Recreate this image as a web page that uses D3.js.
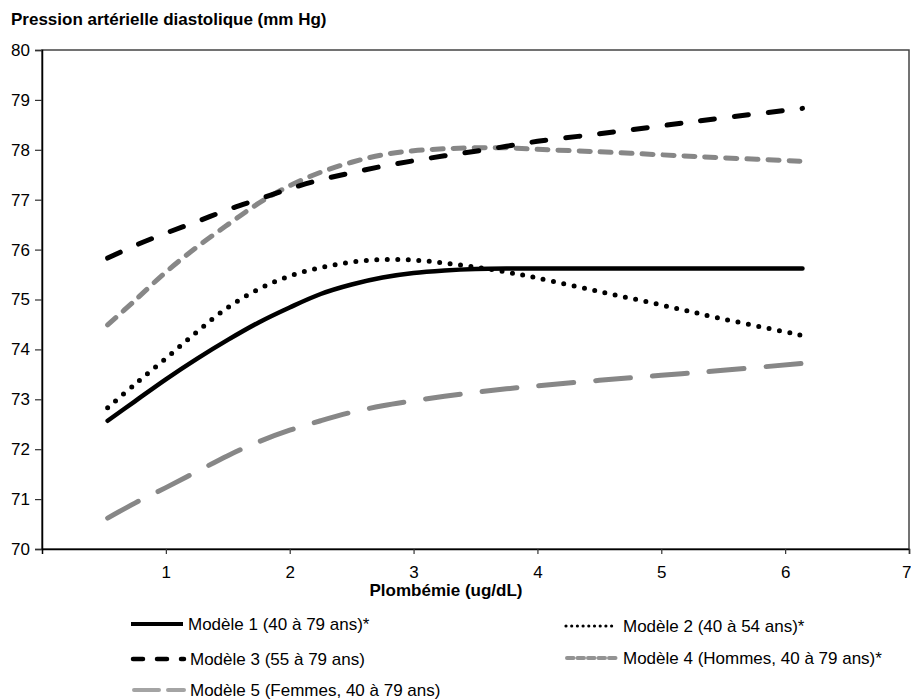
<!DOCTYPE html>
<html>
<head>
<meta charset="utf-8">
<script src="https://cdn.jsdelivr.net/npm/d3@7/dist/d3.min.js"></script>
<style>
  body { margin: 0; background: #fff; }
  svg { display: block; font-family: "Liberation Sans", Arial, sans-serif; }
</style>
</head>
<body>
<svg id="chart" width="911" height="700"></svg>
<script>
// ---- data ----
const xValues = [0.53, 0.75, 1, 1.25, 1.5, 1.75, 2, 2.25, 2.5, 2.75, 3, 3.25, 3.5, 3.75, 4, 4.5, 5, 5.5, 6.14];
const model1 = [72.57, 72.96, 73.40, 73.81, 74.19, 74.54, 74.84, 75.11, 75.30, 75.44, 75.53, 75.58, 75.61, 75.62, 75.62, 75.62, 75.62, 75.62, 75.62];
const model2 = [72.83, 73.30, 73.82, 74.35, 74.84, 75.21, 75.47, 75.64, 75.75, 75.80, 75.79, 75.73, 75.65, 75.55, 75.43, 75.16, 74.89, 74.61, 74.28];
const model3 = [75.83, 76.08, 76.33, 76.56, 76.80, 77.01, 77.22, 77.40, 77.54, 77.67, 77.78, 77.88, 77.97, 78.07, 78.17, 78.32, 78.48, 78.64, 78.83];
const model4 = [74.49, 74.98, 75.55, 76.05, 76.50, 76.93, 77.28, 77.55, 77.75, 77.90, 77.98, 78.02, 78.04, 78.04, 78.01, 77.96, 77.90, 77.84, 77.77];
const model5 = [70.62, 70.92, 71.23, 71.55, 71.87, 72.15, 72.38, 72.57, 72.74, 72.87, 72.97, 73.06, 73.14, 73.21, 73.27, 73.38, 73.48, 73.58, 73.72];
const seriesNames = [
  "Modèle 1 (40 à 79 ans)*",
  "Modèle 2 (40 à 54 ans)*",
  "Modèle 3 (55 à 79 ans)",
  "Modèle 4 (Hommes, 40 à 79 ans)*",
  "Modèle 5 (Femmes, 40 à 79 ans)"
];
const xTicks = [1, 2, 3, 4, 5, 6, 7];
const yTicks = [70, 71, 72, 73, 74, 75, 76, 77, 78, 79, 80];
const yTitle = "Pression artérielle diastolique (mm Hg)";
const xTitle = "Plombémie (ug/dL)";

// ---- styles ----
const styles = [
  { color: "#000", width: 4.5, dash: null, lDash: null, lWidth: 4, lColor: "#000" },
  { color: "#000", width: 5, dash: "0,10.5", lDash: "0,5.7", lWidth: 3.2, lColor: "#000" },
  { color: "#000", width: 5, dash: "14,20", lDash: "10,14", lWidth: 4.5, lColor: "#000" },
  { color: "#878787", width: 5, dash: "11,10", lDash: "6.5,4", lWidth: 4, lColor: "#939393" },
  { color: "#878787", width: 5, dash: "35,22", lDash: "25,9", lWidth: 4, lColor: "#a4a4a4" }
];

const svg = d3.select("#chart");
const mLeft = 42, mRight = 909, mTop = 50, mBottom = 549;
const x = d3.scaleLinear().domain([0, 7]).range([mLeft, mRight]);
const y = d3.scaleLinear().domain([70, 80]).range([mBottom, mTop]);

// frame
svg.append("rect")
  .attr("x", mLeft).attr("y", mTop)
  .attr("width", mRight - mLeft).attr("height", mBottom - mTop)
  .attr("fill", "none").attr("stroke", "#444").attr("stroke-width", 1.5);

// axes
const yAxis = svg.append("g").attr("transform", `translate(${mLeft},0)`)
  .call(d3.axisLeft(y).tickValues(yTicks).tickSize(7).tickPadding(5).tickFormat(d3.format("d")));
const xAxis = svg.append("g").attr("transform", `translate(0,${mBottom})`)
  .call(d3.axisBottom(x).tickValues(xTicks).tickSize(5).tickPadding(12).tickFormat(d3.format("d")));
[yAxis, xAxis].forEach(g => {
  g.select(".domain").attr("stroke", "#000").attr("stroke-width", 1.5);
  g.selectAll(".tick line").attr("stroke", "#333").attr("stroke-width", 1.2);
  g.selectAll(".tick text").attr("font-size", 17).attr("fill", "#000")
    .attr("font-family", "'Liberation Sans', Arial, sans-serif");
});
// keep the last x label inside the canvas
xAxis.selectAll(".tick text").filter(d => d === 7)
  .attr("text-anchor", "end").attr("x", 911 - x(7));

// titles
svg.append("text").attr("x", 11).attr("y", 25)
  .attr("font-size", 17).attr("font-weight", "bold").text(yTitle);
svg.append("text").attr("x", 446).attr("y", 596).attr("text-anchor", "middle")
  .attr("font-size", 17).attr("font-weight", "bold").text(xTitle);

// lines
const allSeries = [model1, model2, model3, model4, model5];
const line = d3.line().x(d => x(d[0])).y(d => y(d[1])).curve(d3.curveCatmullRom.alpha(0.5));
const drawOrder = [4, 3, 2, 1, 0];
drawOrder.forEach(i => {
  const pts = xValues.map((xv, j) => [xv, allSeries[i][j]]);
  const st = styles[i];
  svg.append("path").datum(pts)
    .attr("d", line)
    .attr("fill", "none")
    .attr("stroke", st.color)
    .attr("stroke-width", st.width)
    .attr("stroke-linecap", "round")
    .attr("stroke-linejoin", "round")
    .attr("stroke-dasharray", st.dash);
});

// legend
const legendPos = [
  { x1: 131, x2: 183, tx: 188, y: 624 },
  { x1: 566, x2: 616, tx: 623, y: 626 },
  { x1: 133, x2: 184, tx: 190, y: 659 },
  { x1: 567, x2: 616, tx: 623, y: 658 },
  { x1: 134, x2: 184, tx: 190, y: 690 }
];
seriesNames.forEach((name, i) => {
  const p = legendPos[i], st = styles[i];
  const g = svg.append("g");
  g.append("line").attr("x1", p.x1).attr("x2", p.x2).attr("y1", p.y).attr("y2", p.y)
    .attr("stroke", st.lColor).attr("stroke-width", st.lWidth)
    .attr("stroke-linecap", st.lDash ? "round" : "butt")
    .attr("stroke-dasharray", st.lDash);
  g.append("text").attr("x", p.tx).attr("y", p.y).attr("dy", "0.36em")
    .attr("font-size", 17).attr("fill", "#000").text(name);
});
</script>
</body>
</html>
